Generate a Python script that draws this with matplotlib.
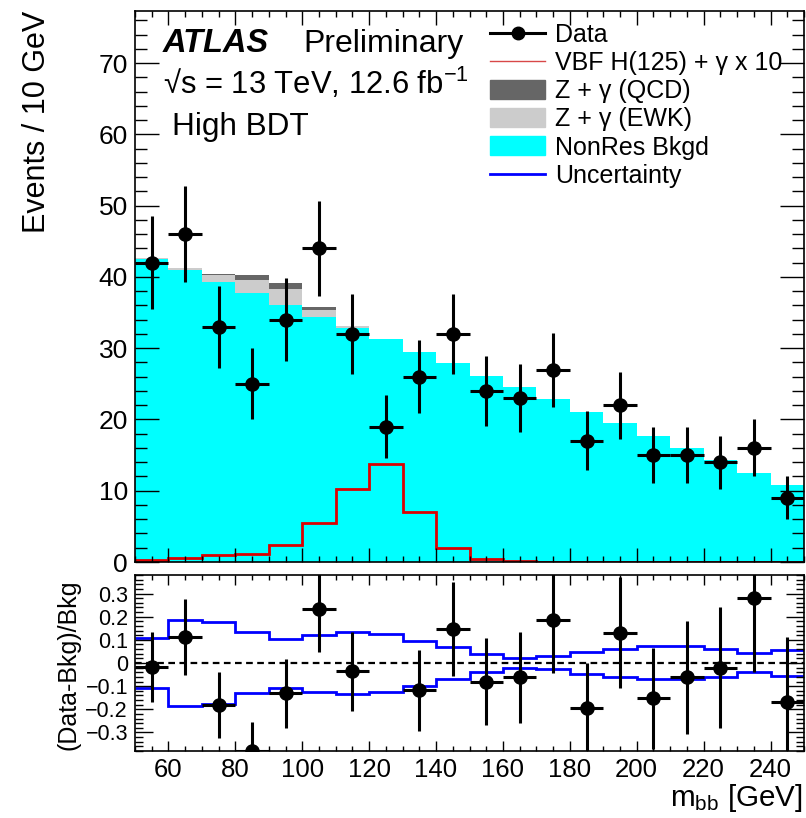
import numpy as np
import matplotlib
matplotlib.use("Agg")
import matplotlib.pyplot as plt
from matplotlib.lines import Line2D
from matplotlib.patches import Patch
from matplotlib.ticker import MultipleLocator, FuncFormatter

plt.rcParams['font.family'] = ['Liberation Sans', 'DejaVu Sans']
plt.rcParams['mathtext.fontset'] = 'custom'
plt.rcParams['mathtext.rm'] = 'Liberation Sans'
plt.rcParams['mathtext.it'] = 'Liberation Sans:italic'

# m_bb bins, 10 GeV wide
edges = np.arange(50, 251, 10)
centers = edges[:-1] + 5

data = [42, 46, 33, 25, 34, 44, 32, 19, 26, 32, 24, 23, 27, 17, 22, 15, 15, 14, 16, 9]
nonres = [42.5, 41.0, 39.3, 37.7, 36.0, 34.4, 32.8, 31.3, 29.5, 27.9,
          26.1, 24.5, 22.8, 21.1, 19.45, 17.7, 16.0, 14.3, 12.5, 10.8]
zg_ewk = [0.2, 0.3, 0.9, 1.85, 2.3, 0.95, 0.3, 0.05, 0, 0,
          0, 0, 0, 0, 0, 0, 0, 0, 0, 0]
zg_qcd = [0, 0, 0.2, 0.7, 0.85, 0.37, 0.05, 0, 0, 0,
          0, 0, 0, 0, 0, 0, 0, 0, 0, 0]
signal_x10 = [0.3, 0.6, 1.05, 1.15, 2.4, 5.5, 10.3, 13.7, 7.0, 1.9,
              0.4, 0.15, 0.05, 0.03, 0.02, 0.02, 0.01, 0.01, 0.01, 0.01]
unc_up = [0.11, 0.186, 0.176, 0.132, 0.105, 0.123, 0.136, 0.126, 0.097, 0.069,
          0.040, 0.023, 0.030, 0.047, 0.062, 0.072, 0.072, 0.062, 0.043, 0.057]
unc_dn = [-0.11, -0.184, -0.177, -0.131, -0.106, -0.124, -0.136, -0.124, -0.099, -0.070,
          -0.041, -0.021, -0.028, -0.046, -0.060, -0.067, -0.071, -0.060, -0.041, -0.056]

data = np.array(data, float)
b1 = np.array(nonres)
b2 = b1 + np.array(zg_ewk)
b3 = b2 + np.array(zg_qcd)

W, H = 806, 818
fig = plt.figure(figsize=(W / 100, H / 100), dpi=100)
ax = fig.add_axes([135 / W, 1 - 562 / H, 669 / W, 551 / H])
ax2 = fig.add_axes([135 / W, 1 - 751 / H, 669 / W, 176 / H])

# stacked backgrounds
ax.stairs(b1, edges, baseline=0, fill=True, color='#00ffff', lw=0)
ax.stairs(b2, edges, baseline=b1, fill=True, color='#cccccc', lw=0)
ax.stairs(b3, edges, baseline=b2, fill=True, color='#666666', lw=0)
ax.stairs(signal_x10, edges, color='#dd0000', lw=2)
ax.errorbar(centers, data, yerr=np.sqrt(data), xerr=5, fmt='o', color='k',
            ms=9.5, elinewidth=2.2, capsize=0, zorder=5)

ax.set_xlim(50, 250)
ax.set_ylim(0, 77.3)
ax.xaxis.set_major_locator(MultipleLocator(20))
ax.xaxis.set_minor_locator(MultipleLocator(5))
ax.yaxis.set_major_locator(MultipleLocator(10))
ax.yaxis.set_minor_locator(MultipleLocator(2))
ax.tick_params(which='both', direction='in', top=True, right=True, labelbottom=False)
ax.tick_params(axis='y', which='major', length=17, width=1, labelsize=19, pad=5)
ax.tick_params(axis='y', which='minor', length=8.6, width=1)
ax.tick_params(axis='x', which='major', length=10, width=1)
ax.tick_params(axis='x', which='minor', length=4.3, width=1)

# ratio panel
ratio = data / b3 - 1
rerr = np.sqrt(data) / b3
rlo, rhi = -0.38, 0.38
keep = ratio >= rlo - 0.002
ax2.stairs(unc_up, edges, baseline=None, color='#0000ff', lw=2)
ax2.stairs(unc_dn, edges, baseline=None, color='#0000ff', lw=2)
ax2.axhline(0, color='k', ls=(0, (3, 2)), lw=1.6)
ax2.errorbar(centers[keep], ratio[keep], yerr=rerr[keep], xerr=5, fmt='o', color='k',
             ms=9.5, elinewidth=2.2, capsize=0, zorder=5)
ax2.set_xlim(50, 250)
ax2.set_ylim(rlo, rhi)
ax2.xaxis.set_major_locator(MultipleLocator(20))
ax2.xaxis.set_minor_locator(MultipleLocator(5))
ax2.yaxis.set_major_locator(MultipleLocator(0.1))
ax2.yaxis.set_minor_locator(MultipleLocator(0.02))
ax2.yaxis.set_major_formatter(FuncFormatter(
    lambda v, p: '0' if abs(v) < 1e-9 else ('%.1f' % v).replace('-', '\u2212')))
ax2.tick_params(which='both', direction='in', top=True, right=True)
ax2.tick_params(axis='y', which='major', length=13, width=1, labelsize=15.5, pad=5)
ax2.tick_params(axis='y', which='minor', length=5.8, width=1)
ax2.tick_params(axis='x', which='major', length=7, width=1, labelsize=18.5, pad=5)
ax2.tick_params(axis='x', which='minor', length=3.6, width=1)

for a in (ax, ax2):
    for s in a.spines.values():
        s.set_linewidth(1.2)

# labels and annotations
fig.text(37 / W, 1 - 11 / H, 'Events / 10 GeV', rotation=90, ha='center', va='top', fontsize=22)
fig.text(69 / W, 1 - 665 / H, '(Data-Bkg)/Bkg', rotation=90, ha='center', va='center', fontsize=18)
fig.text(803 / W, 1 - 806 / H, 'm$_{\\mathrm{bb}}$ [GeV]', ha='right', va='baseline', fontsize=21.3)

fig.text(163 / W, 1 - 52 / H, 'ATLAS', fontsize=23.5, fontweight='bold', fontstyle='italic', va='baseline')
fig.text(303 / W, 1 - 52 / H, 'Preliminary', fontsize=23, va='baseline')
fig.text(163 / W, 1 - 94 / H, '\u221as = 13 TeV, 12.6 fb$^{-1}$', fontsize=22.3, va='baseline')
fig.text(172 / W, 1 - 135 / H, 'High BDT', fontsize=22.7, va='baseline')

handles = [Line2D([], [], color='k', marker='o', ms=9, lw=2.2),
           Line2D([], [], color='#d84848', lw=1),
           Patch(color='#666666'),
           Patch(color='#cccccc'),
           Patch(color='#00ffff'),
           Line2D([], [], color='#0000ff', lw=2)]
labels = ['Data', 'VBF H(125) + \u03b3 x 10', 'Z + \u03b3 (QCD)', 'Z + \u03b3 (EWK)',
          'NonRes Bkgd', 'Uncertainty']
fig.legend(handles, labels, loc='upper left', bbox_to_anchor=(490 / W, 1 - 23 / H),
           frameon=False, fontsize=18, handlelength=2.2, handleheight=0.8,
           handletextpad=0.4, labelspacing=0.165, borderpad=0, borderaxespad=0)

fig.savefig('out.png', dpi=100)
